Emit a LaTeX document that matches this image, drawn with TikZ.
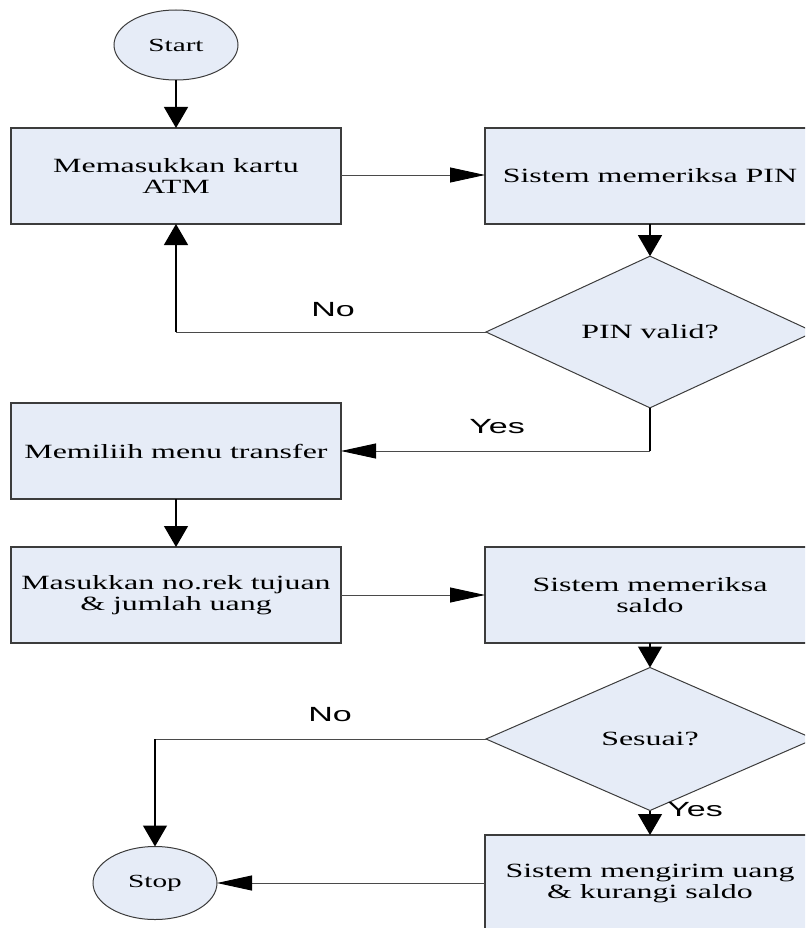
\documentclass[tikz,border=0pt]{standalone}
\usepackage{fontspec}
\usetikzlibrary{shapes.geometric,arrows.meta}
\newfontfamily\boxfont[FakeStretch=1.58]{Liberation Serif}
\newfontfamily\labelfont[FakeStretch=1.66]{Liberation Sans}
\definecolor{boxfill}{HTML}{E6ECF7}
\definecolor{boxedge}{HTML}{3C3C3C}
\definecolor{linecol}{HTML}{4A4A4A}
\tikzset{
  every node/.style={inner sep=0pt, outer sep=0pt},
  stepbox/.style={draw=boxedge, line width=1.2pt, fill=boxfill, rectangle,
    minimum width=330pt, minimum height=96pt, align=center,
    font=\boxfont\fontsize{20.2}{21}\selectfont},
  termbox/.style={draw=boxedge, line width=1pt, fill=boxfill, ellipse,
    minimum width=124pt, minimum height=70pt, align=center,
    font=\boxfont\fontsize{18.5}{19}\selectfont},
  askbox/.style={draw=boxedge, line width=1pt, fill=boxfill, diamond,
    minimum width=328pt, minimum height=143pt, align=center,
    font=\boxfont\fontsize{20.2}{21}\selectfont},
  flowlabel/.style={font=\labelfont\fontsize{20.5}{21}\selectfont},
  vflow/.style={draw=black, line width=1.3pt, -{Triangle[length=21pt,width=24pt]}},
  hflow/.style={draw=linecol, line width=0.9pt,
    -{Triangle[length=35pt,width=15pt,color=black]}},
}
\begin{document}
\begin{tikzpicture}[x=1pt, y=-1pt]
  \useasboundingbox (0,0) rectangle (805,928);
  \clip (0,0) rectangle (805,928);

  % nodes
  \node[termbox] (start) at (176,45) {Start};
  \node[stepbox] (b1) at (176,176) {Memasukkan kartu\\ATM};
  \node[stepbox] (b2) at (650,176) {Sistem memeriksa PIN};
  \node[askbox]  (d1) at (650,332) {PIN valid?};
  \node[stepbox] (b3) at (176,451) {Memiliih menu transfer};
  \node[stepbox] (b4) at (176,595) {Masukkan no.rek tujuan\\\& jumlah uang};
  \node[stepbox] (b5) at (650,595) {Sistem memeriksa\\saldo};
  \node[askbox]  (d2) at (650,739) {Sesuai?};
  \node[stepbox] (b6) at (650,883) {Sistem mengirim uang\\\& kurangi saldo};
  \node[termbox, minimum height=73pt] (stop) at (155,883) {Stop};

  % branch labels
  \node[flowlabel] (no1) at (333,310) {No};
  \node[flowlabel] (yes1) at (497,427) {Yes};
  \node[flowlabel] (no2) at (330,715) {No};
  \node[flowlabel] (yes2) at (695,810) {Yes};

  % connectors
  \draw[vflow] (start.south) -- (b1.north);
  \draw[hflow] (b1.east |- 0,175) -- (b2.west |- 0,175);
  \draw[vflow] (b2.south) -- (d1.north);
  \draw[hflow, -] (d1.west) -- (d1.west -| b1.south);
  \draw[vflow] (d1.west -| b1.south) -- (b1.south);
  \draw[vflow, -] (d1.south) -- (d1.south |- b3.east);
  \draw[hflow] (d1.south |- b3.east) -- (b3.east);
  \draw[vflow] (b3.south) -- (b4.north);
  \draw[hflow] (b4.east) -- (b5.west);
  \draw[vflow] (b5.south) -- (d2.north);
  \draw[vflow] (d2.south) -- (b6.north);
  \draw[hflow, -] (d2.west) -- (d2.west -| stop.north);
  \draw[vflow] (d2.west -| stop.north) -- (stop.north);
  \draw[hflow] (b6.west) -- (stop.east);
\end{tikzpicture}
\end{document}
